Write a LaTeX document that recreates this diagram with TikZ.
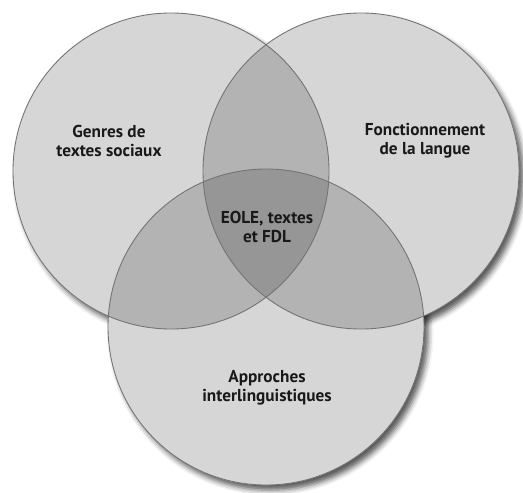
\documentclass[tikz,border=0pt]{standalone}
\usepackage{fontspec}
\setmainfont{PT Sans}
\usepackage{tikz}
\usetikzlibrary{shadows.blur}

\begin{document}
\begin{tikzpicture}[
    ring/.style={fill=black, fill opacity=0.16},
    rim/.style={draw=black!55, line width=0.5pt},
    lbl/.style={align=center, font=\bfseries\fontsize{9.8}{10.8}\selectfont, text=black!90}
]
    \useasboundingbox (0,0) rectangle (10.46,9.84);
    \coordinate (gen) at (3.42,6.42);
    \coordinate (fon) at (7.22,6.42);
    \coordinate (app) at (5.32,3.30);

    % shadows, then white discs over them
    \foreach \c in {gen,fon,app}
        \fill[white, blur shadow={shadow xshift=2.5pt, shadow yshift=-3pt,
            shadow blur radius=3pt, shadow opacity=65}] (\c) circle (3.16cm);
    \foreach \c in {gen,fon,app}
        \fill[white] (\c) circle (3.16cm);

    \foreach \c in {gen,fon,app}
        \fill[ring] (\c) circle (3.16cm);
    \foreach \c in {gen,fon,app}
        \draw[rim] (\c) circle (3.16cm);

    \node[lbl] (genres) at (2.18,7.02) {Genres de\\textes sociaux};
    \node[lbl] (fonct) at (8.50,7.02) {Fonctionnement\\de la langue};
    \node[lbl] (eole) at (5.34,5.30) {EOLE, textes\\et FDL};
    \node[lbl] (appr) at (5.34,2.08) {Approches\\interlinguistiques};
\end{tikzpicture}
\end{document}
